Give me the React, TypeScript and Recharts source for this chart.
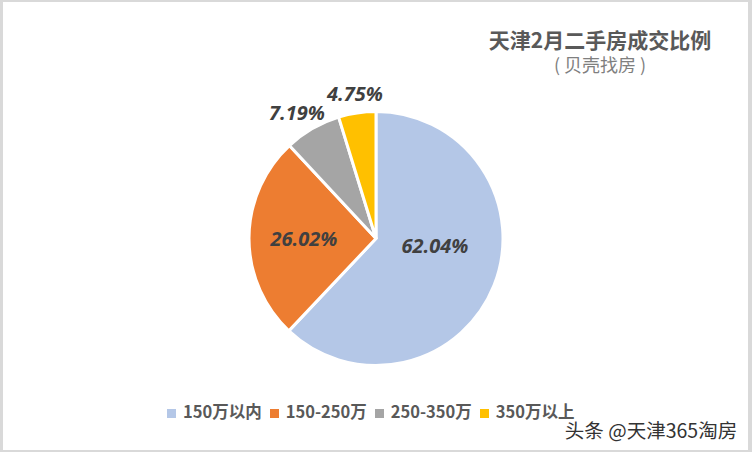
import { PieChart, Pie, Cell, Legend } from 'recharts';

const categories = ['150万以内', '150-250万', '250-350万', '350万以上'];
const shares = [62.04, 26.02, 7.19, 4.75];
const sliceColors = ['#b4c7e7', '#ed7d31', '#a5a5a5', '#ffc000'];

const chartTitle = '天津2月二手房成交比例';
const chartSubtitle = '( 贝壳找房 )';
const watermark = '头条 @天津365淘房';

// Excel-style label spots, relative to the pie centre
const labelOffsets = [
  { dx: 59, dy: 7 },
  { dx: -72, dy: 0 },
  { dx: -79, dy: -126 },
  { dx: -21, dy: -145 },
];

const CJK = '"Noto Sans CJK SC", "Noto Sans", sans-serif';

const data = categories.map((name, i) => ({ name, value: shares[i] }));

function renderLabel(props: any) {
  const off = labelOffsets[props.index];
  return (
    <text
      x={props.cx + off.dx}
      y={props.cy + off.dy}
      textAnchor="middle"
      dominantBaseline="central"
      fill="#404040"
      fontFamily='"Open Sans", sans-serif'
      fontSize={20}
      fontStyle="italic"
      fontWeight={700}
    >
      {shares[props.index].toFixed(2)}%
    </text>
  );
}

export default function App() {
  return (
    <div style={{ position: 'fixed', left: 0, top: 0, width: 752, height: 452, background: '#d9d9d9' }}>
      <PieChart width={752} height={452} margin={{ top: 0, right: 0, bottom: 0, left: 0 }} style={{ fontFamily: CJK }}>
        <rect x={3} y={2} width={745} height={448} fill="#fff" />
        <text x={600} y={39} textAnchor="middle" dominantBaseline="central" fill="#595959" fontFamily={CJK} fontSize={21} fontWeight={700}>
          {chartTitle}
        </text>
        <text x={600} y={64} textAnchor="middle" dominantBaseline="central" fill="#7f7f7f" fontFamily={CJK} fontSize={18}>
          {chartSubtitle}
        </text>
        <Pie
          data={data}
          dataKey="value"
          nameKey="name"
          cx={376}
          cy={238.5}
          outerRadius={127}
          startAngle={90}
          endAngle={-270}
          stroke="#fff"
          strokeWidth={3}
          label={renderLabel}
          labelLine={false}
          isAnimationActive={false}
        >
          {data.map((d, i) => (
            <Cell key={d.name} fill={sliceColors[i]} />
          ))}
        </Pie>
        <Legend
          layout="horizontal"
          align="left"
          verticalAlign="bottom"
          iconType="square"
          iconSize={9}
          itemSorter={null}
          wrapperStyle={{ left: 167, top: 399, bottom: 'auto', width: 560, padding: 0, whiteSpace: 'nowrap' }}
          formatter={(value: string) => (
            <span style={{ color: '#595959', fontSize: 16.5, fontWeight: 700, fontFamily: CJK, marginLeft: 3, marginRight: -2, whiteSpace: 'nowrap' }}>{value}</span>
          )}
        />
        <text
          x={651}
          y={429}
          textAnchor="middle"
          dominantBaseline="central"
          fill="#333"
          stroke="#fff"
          strokeWidth={2}
          paintOrder="stroke"
          fontFamily={CJK}
          fontSize={19.5}
        >
          {watermark}
        </text>
      </PieChart>
    </div>
  );
}
